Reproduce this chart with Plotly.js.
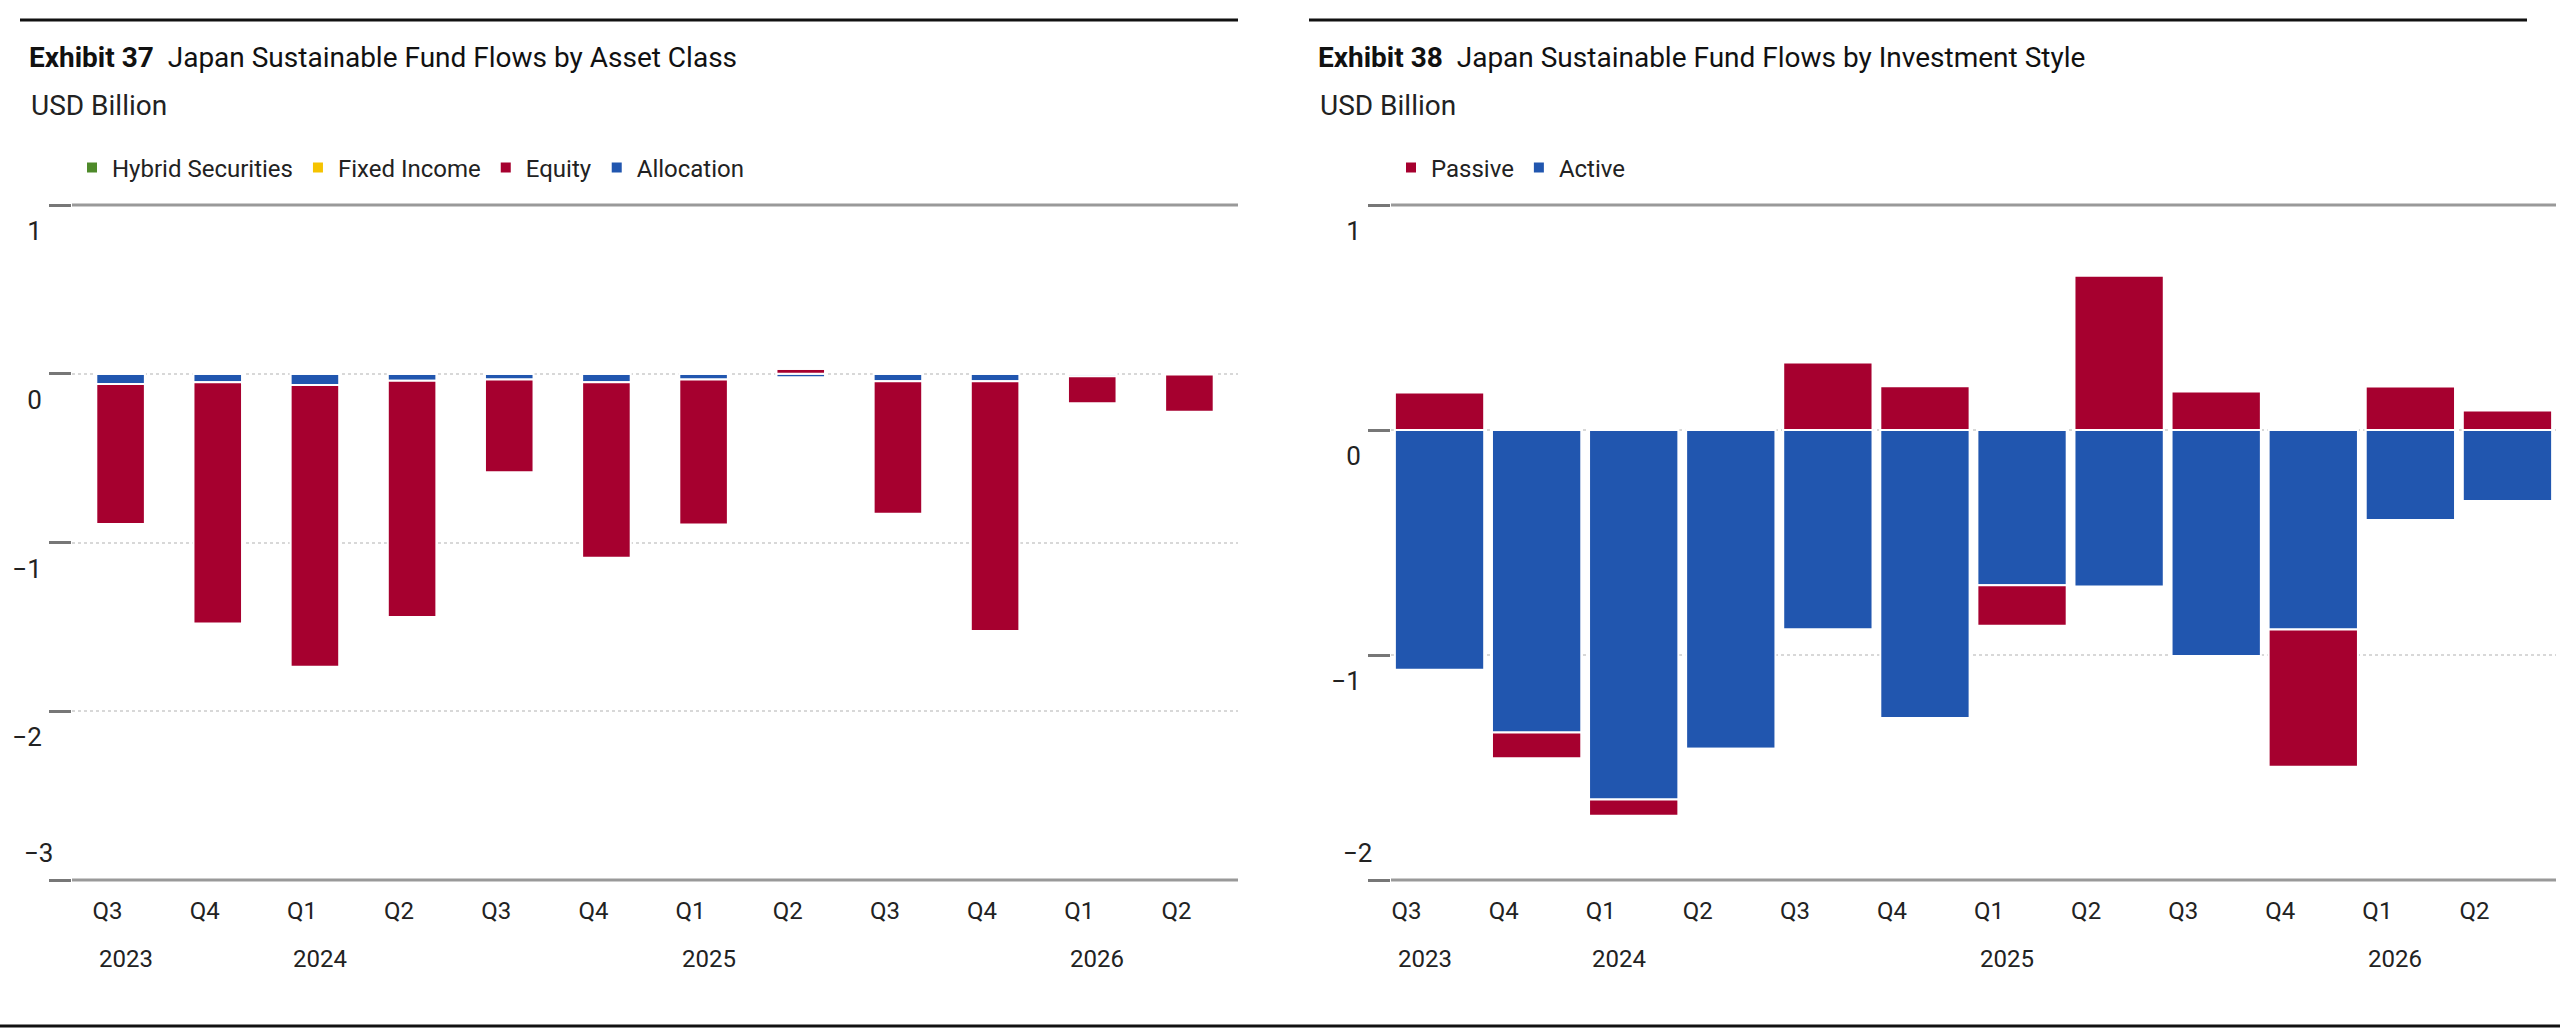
<!DOCTYPE html>
<html>
<head>
<meta charset="utf-8">
<script src="https://cdn.plot.ly/plotly-3.0.1.min.js"></script>
<style>
  body { margin: 0; background: #fff; }
  #wrap { display: flex; width: 2560px; height: 1035px; }
  .chart { width: 1280px; height: 1035px; }
</style>
</head>
<body>
<div id="wrap">
  <div id="asset-class" class="chart"></div>
  <div id="style" class="chart"></div>
</div>
<script>
// quarters shown on both exhibits
const quarters = ["Q3 2023", "Q4 2023", "Q1 2024", "Q2 2024", "Q3 2024", "Q4 2024",
                  "Q1 2025", "Q2 2025", "Q3 2025", "Q4 2025", "Q1 2026", "Q2 2026"];
const quarterLabels = ["Q3", "Q4", "Q1", "Q2", "Q3", "Q4", "Q1", "Q2", "Q3", "Q4", "Q1", "Q2"];
const yearLabels = [["Q3 2023", "2023"], ["Q1 2024", "2024"], ["Q1 2025", "2025"], ["Q1 2026", "2026"]];

// Exhibit 37, USD billion
const allocation = [-0.06, -0.05, -0.066, -0.042, -0.034, -0.05, -0.034, -0.02, -0.045, -0.045, -0.015, -0.005];
const equity = [-0.83, -1.43, -1.67, -1.40, -0.55, -1.04, -0.86, 0.03, -0.785, -1.48, -0.16, -0.22];
const fixedIncome = [0, 0, 0, 0, 0, 0, 0, 0, 0, 0, 0, 0];
const hybrid = [0, 0, 0, 0, 0, 0, 0, 0, 0, 0, 0, 0];

// Exhibit 38, USD billion
const active = [-1.066, -1.344, -1.642, -1.417, -0.885, -1.28, -0.69, -0.696, -1.004, -0.887, -0.40, -0.316];
const passive = [0.167, -0.115, -0.072, -0.008, 0.30, 0.195, -0.18, 0.686, 0.171, -0.61, 0.193, 0.087];

const RED = "#A6002F";
const BLUE = "#2156AF";
const GREEN = "#4E8A2A";
const YELLOW = "#F5C300";
const FONT = "Liberation Sans Narrow, Roboto, sans-serif";

const fmt = (v) => v < 0 ? "\u2212" + (-v) : String(v);

function bar(name, y, color, width) {
  return {
    type: "bar", name: name, x: quarters, y: y, width: width,
    marker: { color: color, line: { color: "#fff", width: 2 } },
    hoverinfo: "x+y+name"
  };
}

function makeLayout(title, yrange, yticks, left, right, labelShift) {
  const W = 1280, plotW = W - left - right;
  const px = (p) => (p - left) / plotW;     // pixel -> paper x
  const H = 1035, top = 205, bottom = 155, plotH = H - top - bottom;
  const py = (p) => 1 - (p - top) / plotH;  // pixel -> paper y
  const line = (x0, x1, y, color, w) => ({
    type: "line", xref: "paper", yref: "paper", x0: px(x0), x1: px(x1), y0: py(y), y1: py(y),
    line: { color: color, width: w }
  });
  const annotations = [{
    text: "USD Billion", xref: "paper", yref: "paper", x: px(title.x), y: py(105),
    xanchor: "left", yanchor: "middle", showarrow: false,
    font: { family: FONT, size: 28, color: "#222" }
  }, {
    // lowest tick label sits above its tick, as in the source
    text: fmt(yrange[0]), xref: "paper", yref: "y", x: px(left - 50), y: yrange[0],
    xanchor: "left", yanchor: "bottom", yshift: 10, showarrow: false,
    font: { family: FONT, size: 26, color: "#222" }
  }];
  yearLabels.forEach(([q, yr]) => annotations.push({
    text: yr, x: q, xref: "x", yref: "paper", y: py(959), yanchor: "middle",
    xanchor: "left", xshift: labelShift.year, showarrow: false,
    font: { family: FONT, size: 24, color: "#222" }
  }));
  return {
    width: W, height: H,
    margin: { l: left, r: right, t: top, b: bottom },
    paper_bgcolor: "#fff", plot_bgcolor: "#fff",
    barmode: "relative", bargap: 0,
    font: { family: FONT, size: 24, color: "#222" },
    title: {
      text: title.text, x: title.x / W, xref: "container", xanchor: "left",
      y: 1 - 57 / H, yref: "container", yanchor: "middle",
      font: { family: FONT, size: 28, color: "#111" }
    },
    showlegend: true,
    legend: {
      orientation: "h", traceorder: "reversed", x: 0.0, xanchor: "left",
      y: py(168), yanchor: "middle", font: { family: FONT, size: 24, color: "#222" }
    },
    xaxis: {
      type: "category", tickvals: quarters, ticktext: quarterLabels,
      showgrid: false, showline: false, ticks: "", ticklabelshift: labelShift.q,
      ticklabelstandoff: 14, tickfont: { family: FONT, size: 24, color: "#222" },
      fixedrange: true
    },
    yaxis: {
      range: yrange, tickvals: yticks,
      ticktext: yticks.map(v => v === yrange[0] ? "" : fmt(v)),
      showgrid: true, gridcolor: "#d8d8d8", griddash: "dot", gridwidth: 2,
      zeroline: false, showline: false, ticks: "outside", ticklen: 22, tickwidth: 3,
      tickcolor: "#777", ticklabelshift: 26, ticklabelstandoff: 2,
      tickfont: { family: FONT, size: 26, color: "#222" }, fixedrange: true
    },
    shapes: [
      line(title.x - 9, title.x - 9 + 1218, 20, "#111", 3),
      line(left, W - right, 205, "#999", 3),
      line(left, W - right, 880, "#999", 3),
      line(0, W, 1026, "#111", 3)
    ],
    annotations: annotations
  };
}

Plotly.newPlot("asset-class", [
  bar("Allocation", allocation, BLUE, 0.5),
  bar("Equity", equity, RED, 0.5),
  bar("Fixed Income", fixedIncome, YELLOW, 0.5),
  bar("Hybrid Securities", hybrid, GREEN, 0.5)
], makeLayout(
  { text: "<b>Exhibit 37</b>  Japan Sustainable Fund Flows by Asset Class", x: 29 },
  [-3, 1], [1, 0, -1, -2, -3], 72, 42, { q: -13, year: -24 }
), { displayModeBar: false, staticPlot: true });

Plotly.newPlot("style", [
  bar("Active", active, BLUE, 0.92),
  bar("Passive", passive, RED, 0.92)
], makeLayout(
  { text: "<b>Exhibit 38</b>  Japan Sustainable Fund Flows by Investment Style", x: 38 },
  [-2, 1], [1, 0, -1, -2], 111, 4, { q: -33, year: -44 }
), { displayModeBar: false, staticPlot: true });
</script>
</body>
</html>
